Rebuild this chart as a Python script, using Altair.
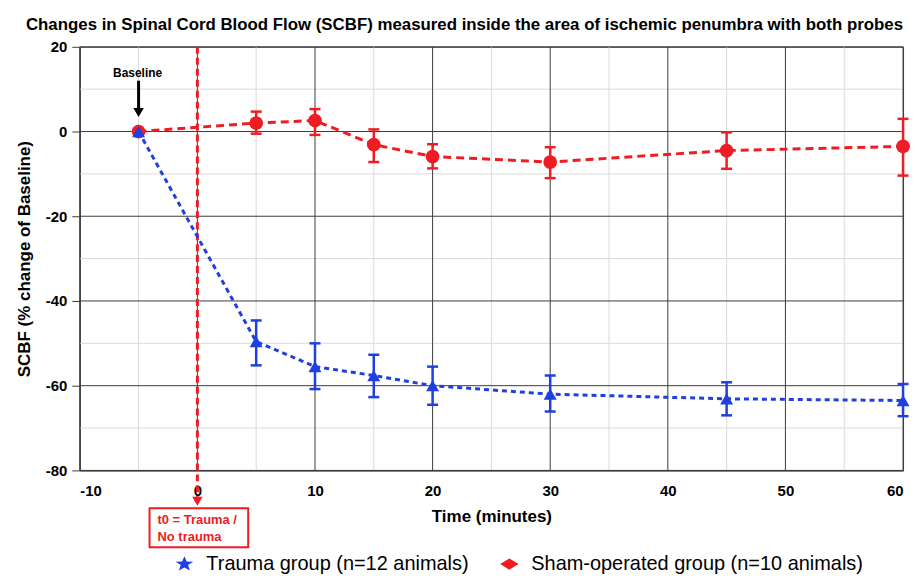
import altair as alt
import pandas as pd

# ---------------- data ----------------
time_trauma = [-5, 5, 10, 15, 20, 30, 45, 60]
trauma_mean = [0, -49.6, -55.5, -57.6, -60.0, -62.0, -63.1, -63.5]
trauma_lo = [None, -55.2, -60.8, -62.7, -64.5, -66.1, -67.0, -67.2]
trauma_hi = [None, -44.6, -50.0, -52.7, -55.5, -57.6, -59.2, -59.6]

time_sham = [-5, 5, 10, 15, 20, 30, 45, 60]
sham_mean = [0, 2.0, 2.6, -3.1, -5.9, -7.2, -4.5, -3.5]
sham_lo = [None, -0.5, -0.8, -7.2, -8.7, -11.0, -8.8, -10.4]
sham_hi = [None, 4.7, 5.3, 0.5, -3.0, -3.7, -0.2, 3.0]

x_major = [-10, 0, 10, 20, 30, 40, 50, 60]
x_minor = [-5, 5, 15, 25, 35, 45, 55]
y_major = [-80, -60, -40, -20, 0, 20]
y_minor = [-70, -50, -30, -10, 10]

trauma_label = "Trauma group (n=12 animals)"
sham_label = "Sham-operated group (n=10 animals)"
groups = [trauma_label, sham_label]
baseline_time = [-5]
t0_time = [0]

title_text = ("Changes in Spinal Cord Blood Flow (SCBF) measured inside the area "
              "of ischemic penumbra with both probes")

# ---------------- styles ----------------
RED = "#EE1D23"
BLUE = "#1F3FE0"
FONT = "Liberation Sans"
MAJOR = "#3c3c3c"
MINOR = "#dadada"
STAR = ("M0,-0.85L0.25,-0.28L0.95,-0.26L0.40,0.11L0.59,0.69L0,0.36"
        "L-0.59,0.69L-0.40,0.11L-0.95,-0.26L-0.25,-0.28Z")
DIAMOND = "M-1,0L0,-0.62L1,0L0,0.62Z"

df_t = pd.DataFrame({"time": time_trauma, "val": trauma_mean, "lo": trauma_lo, "hi": trauma_hi})
df_s = pd.DataFrame({"time": time_sham, "val": sham_mean, "lo": sham_lo, "hi": sham_hi})

x_scale = alt.Scale(domain=[-10, 60], nice=False, zero=False)
y_scale = alt.Scale(domain=[-80, 20], nice=False, zero=False)

x_axis = alt.Axis(
    values=x_major,
    labelExpr="toString(datum.value)",
    grid=False,
    ticks=False,
    domainColor=MAJOR,
    labelFont=FONT, labelFontSize=15, labelFontWeight="bold", labelColor="black",
    labelPadding=13,
    title="Time (minutes)", titleFont=FONT, titleFontSize=17, titleFontWeight="bold",
    titleColor="black", titlePadding=10,
)
y_axis = alt.Axis(
    values=y_major,
    labelExpr="toString(datum.value)",
    grid=False,
    ticks=True, tickSize=8, tickColor=MAJOR,
    domainColor=MAJOR,
    labelFont=FONT, labelFontSize=15, labelFontWeight="bold", labelColor="black",
    labelPadding=5,
    title="SCBF (% change of Baseline)", titleFont=FONT, titleFontSize=17,
    titleFontWeight="bold", titleColor="black", titlePadding=12,
)

X = alt.X("time:Q", scale=x_scale, axis=x_axis)


def Y(field):
    return alt.Y(f"{field}:Q", scale=y_scale, axis=y_axis)


# grid
def vgrid(values, color):
    return alt.Chart(pd.DataFrame({"time": values})).mark_rule(color=color, strokeWidth=1).encode(
        x=X, y=alt.value(0), y2=alt.value(425))


def hgrid(values, color):
    return alt.Chart(pd.DataFrame({"val": values})).mark_rule(color=color, strokeWidth=1).encode(
        y=Y("val"), x=alt.value(0), x2=alt.value(826))


grid_layers = [vgrid(x_minor, MINOR), hgrid(y_minor, MINOR),
               vgrid(x_major, MAJOR), hgrid(y_major, MAJOR)]


def series(df, color, dash, shape, size):
    line = alt.Chart(df).mark_line(color=color, strokeWidth=3, strokeDash=dash).encode(
        x=X, y=Y("val"))
    err = df.dropna()
    bars = alt.Chart(err).mark_rule(color=color, strokeWidth=2.5).encode(
        x=X, y=Y("lo"), y2="hi")
    cap_lo = alt.Chart(err).mark_tick(color=color, orient="horizontal", size=11,
                                      thickness=2.5, opacity=1).encode(x=X, y=Y("lo"))
    cap_hi = alt.Chart(err).mark_tick(color=color, orient="horizontal", size=11,
                                      thickness=2.5, opacity=1).encode(x=X, y=Y("hi"))
    pts = alt.Chart(df).mark_point(shape=shape, filled=True, color=color, size=size,
                                   opacity=1).encode(x=X, y=Y("val"))
    return line, bars, cap_lo, cap_hi, pts


s_line, s_bars, s_lo, s_hi, s_pts = series(df_s, RED, [8, 5], "circle", 190)
t_line, t_bars, t_lo, t_hi, t_pts = series(df_t, BLUE, [5, 4], "triangle-up", 170)

# t0 vertical marker
df_t0 = pd.DataFrame({"time": t0_time})
t0_rule = alt.Chart(df_t0).mark_rule(color=RED, strokeWidth=3, strokeDash=[7, 4]).encode(
    x=X, y=alt.value(0), y2=alt.value(452))
t0_head = alt.Chart(df_t0).mark_point(shape="triangle-down", filled=True, color=RED,
                                      size=110, opacity=1).encode(x=X, y=alt.value(456))
t0_box = alt.Chart(df_t0).mark_rect(fill="white", stroke=RED, strokeWidth=2).encode(
    x=alt.value(70), x2=alt.value(169), y=alt.value(463), y2=alt.value(502))
t0_text1 = alt.Chart(df_t0).mark_text(
    text="t0 = Trauma /", color=RED, font=FONT, fontSize=13,
    fontWeight="bold", align="left", baseline="middle").encode(
    x=alt.value(78), y=alt.value(475))
t0_text2 = alt.Chart(df_t0).mark_text(
    text="No trauma", color=RED, font=FONT, fontSize=13,
    fontWeight="bold", align="left", baseline="middle").encode(
    x=alt.value(78), y=alt.value(492))

# Baseline annotation
df_base = pd.DataFrame({"time": baseline_time})
base_text = alt.Chart(df_base).mark_text(
    text="Baseline", font=FONT, fontSize=12, fontWeight="bold", color="black",
    baseline="middle", align="center", dx=-1).encode(x=X, y=alt.value(26))
base_rule = alt.Chart(df_base).mark_rule(color="black", strokeWidth=3).encode(
    x=X, y=alt.value(34), y2=alt.value(62))
base_head = alt.Chart(df_base).mark_point(shape="triangle-down", filled=True,
                                          color="black", size=110, opacity=1).encode(
    x=X, y=alt.value(66))

# Legend (dummy points outside the x domain, clipped away)
df_leg = pd.DataFrame({"group": groups, "time": [1000, 1000], "val": [0, 0]})
legend_layer = alt.Chart(df_leg).mark_point(filled=True, clip=True, size=200,
                                            opacity=1).encode(
    x=X, y=Y("val"),
    color=alt.Color("group:N", scale=alt.Scale(domain=groups, range=[BLUE, RED]), title=None),
    shape=alt.Shape("group:N", scale=alt.Scale(domain=groups, range=[STAR, DIAMOND]),
                    title=None),
)

chart = alt.layer(
    *grid_layers,
    t0_rule, t0_head, t0_box, t0_text1, t0_text2,
    s_line, t_line,
    s_bars, s_lo, s_hi, s_pts,
    t_bars, t_lo, t_hi, t_pts,
    base_text, base_rule, base_head,
    legend_layer,
).properties(
    width=826, height=425,
    autosize="none",
    padding={"left": 72, "top": 38, "right": 12, "bottom": 103},
    title=alt.TitleParams(title_text, font=FONT, fontSize=16.9, fontWeight="bold",
                          color="black", anchor="start", frame="group", dx=-54, offset=6),
).configure_view(
    stroke=MAJOR, strokeWidth=1
).configure_legend(
    orient="none", legendX=95, legendY=509, direction="horizontal",
    labelFont=FONT, labelFontSize=20, labelColor="black", labelLimit=0,
    labelOffset=12, columnPadding=30, symbolSize=340, symbolStrokeWidth=0,
    symbolOpacity=1,
)

chart.save("out.html", embed_options={"renderer": "svg", "actions": False})
